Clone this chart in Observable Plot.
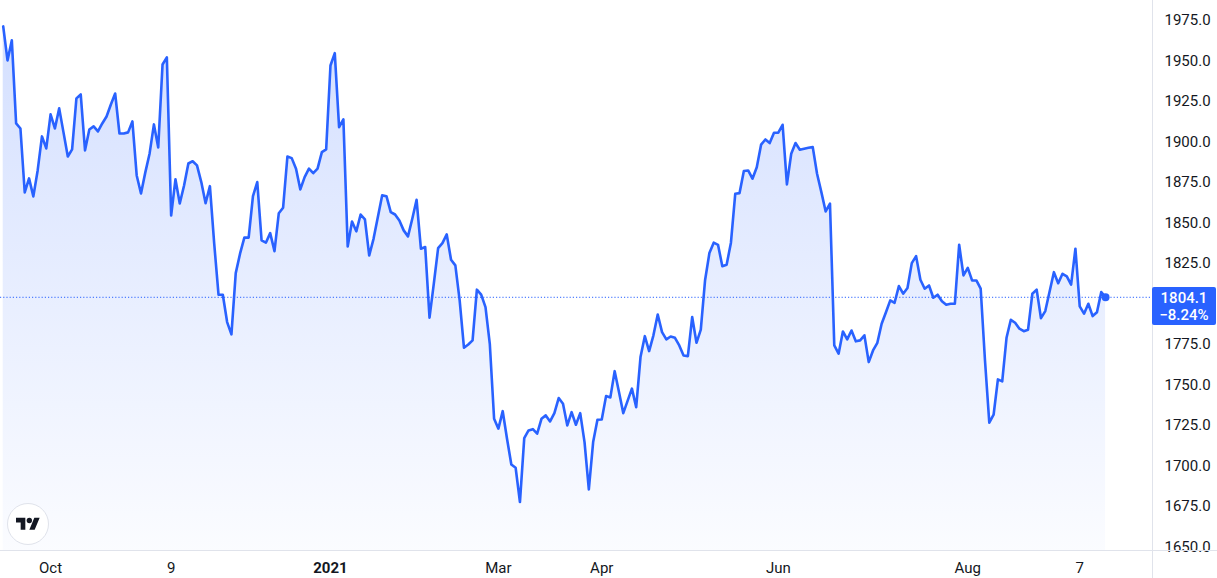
<!DOCTYPE html>
<html>
<head>
<meta charset="utf-8">
<script src="https://cdn.jsdelivr.net/npm/d3@7"></script>
<script src="https://cdn.jsdelivr.net/npm/@observablehq/plot@0.6"></script>
<style>
  html, body { margin: 0; padding: 0; background: #fff; }
  #chart { position: relative; width: 1217px; height: 578px; overflow: hidden; font-family: Roboto, "Liberation Sans", sans-serif; }
  #chart > svg { position: absolute; left: 0; top: 0; }
  .vline { position: absolute; left: 1152px; top: 0; width: 1px; height: 578px; background: #e0e3eb; }
  .hline { position: absolute; left: 0; top: 550px; width: 1217px; height: 1px; background: #e0e3eb; }
  .pricebox { position: absolute; left: 1152px; width: 64px; height: 38px; background: #2962ff; border-radius: 2px;
              color: #fff; font-size: 15px; font-weight: 500; line-height: 17px; text-align: center; padding-top: 3px; box-sizing: border-box; }
  .logo { position: absolute; left: 7px; top: 503px; width: 42px; height: 42px; border-radius: 50%; border: 1px solid #e0e3eb;
          background: #fff; box-sizing: border-box; display: flex; align-items: center; justify-content: center; }
  .logo svg { display: block; }
</style>
</head>
<body>
<div id="chart"></div>
<script>
// trading-session index (0 = first bar shown) and closing price
const day = [
  0,1,2,3,4,5,6,7,8,9,10,11,12,13,14,15,16,17,18,19,20,21,22,23,24,25,26,27,28,29,
  30,31,32,33,34,35,36,37,38,39,40,41,42,43,44,45,46,47,48,49,50,51,52,53,54,55,56,57,58,59,
  60,61,62,63,64,65,66,67,68,69,70,71,72,73,74,75,76,77,78,79,80,81,82,83,84,85,86,88,89,
  90,91,92,93,94,95,96,97,98,99,100,101,102,103,104,105,106,107,108,109,110,111,112,113,114,115,116,117,118,119,
  120,121,122,123,124,125,126,127,128,129,130,131,132,133,134,135,136,137,138,139,140,141,142,143,144,146,147,148,149,
  150,151,152,153,154,155,156,157,158,159,160,161,162,163,164,165,166,167,168,169,170,171,172,173,174,175,176,177,178,179,
  180,181,182,183,184,185,187,188,189,190,191,192,193,194,195,196,197,198,199,200,201,202,203,204,205,206,207,208,209,
  210,211,212,213,214,215,216,217,218,219,220,221,222,223,224,225,226,227,228,229,230,231,232,233,234,235,236,237,238,239,
  240,241,242,244,245,246,247,248,249,250,251,252,253,254,255,256
];
const price = [
  1971.3,1950.3,1962.7,1911.4,1908.3,1868.8,1877.5,1866.4,1882.4,1903.4,1896.0,1917.0,1908.3,1920.7,1905.9,1891.0,1895.4,1926.9,1929.3,1894.8,1907.7,1909.6,1906.5,1911.4,1915.7,1923.1,1929.9,1905.2,1905.2,1905.9,
  1912.7,1879.3,1868.2,1881.2,1892.9,1910.8,1896.6,1947.8,1952.2,1854.6,1876.9,1862.0,1873.1,1886.7,1888.1,1885.5,1875.2,1862.2,1872.7,1837.2,1805.7,1805.7,1788.8,1781.2,1819.0,1831.0,1840.9,1840.9,1866.5,1875.2,
  1839.2,1837.8,1843.7,1832.6,1856.0,1859.4,1891.0,1890.0,1883.5,1870.7,1878.3,1883.5,1880.7,1883.5,1893.7,1895.4,1947.2,1954.8,1909.1,1913.9,1835.5,1850.9,1844.8,1855.2,1852.2,1829.9,1840.2,1867.0,1866.5,
  1856.7,1855.2,1851.5,1845.4,1841.7,1852.6,1864.3,1834.1,1835.1,1791.5,1812.5,1834.4,1837.5,1842.9,1827.3,1823.8,1802.2,1773.0,1775.0,1777.5,1808.8,1805.7,1798.0,1775.4,1729.1,1723.0,1733.8,1716.8,1700.9,1698.9,
  1677.7,1717.2,1721.9,1722.7,1719.9,1729.1,1731.2,1727.5,1732.6,1741.9,1738.4,1725.0,1733.2,1725.4,1732.6,1714.7,1685.5,1714.7,1728.5,1728.7,1743.1,1742.3,1758.5,1745.6,1732.6,1747.7,1736.3,1767.2,1780.1,
  1770.9,1780.6,1793.5,1782.6,1778.1,1779.9,1779.1,1774.4,1768.2,1767.8,1791.9,1776.0,1784.1,1814.8,1831.4,1837.8,1836.5,1823.3,1824.2,1837.8,1868.0,1868.4,1882.0,1882.4,1877.3,1884.4,1898.3,1901.5,1899.3,1905.7,
  1905.7,1910.6,1873.8,1892.7,1899.3,1895.2,1896.4,1896.8,1880.4,1869.0,1857.1,1861.9,1774.4,1769.3,1783.0,1778.1,1783.6,1776.9,1777.5,1780.6,1764.1,1771.3,1776.0,1787.8,1794.9,1802.2,1800.7,1811.0,1806.3,
  1809.8,1825.2,1829.5,1814.9,1809.4,1811.4,1803.8,1805.7,1801.7,1799.5,1800.1,1800.1,1836.5,1817.6,1822.3,1814.5,1814.5,1809.4,1765.1,1726.7,1731.6,1753.4,1752.2,1779.1,1790.2,1788.4,1784.7,1783.2,1784.1,1806.3,
  1808.8,1791.2,1795.6,1819.6,1812.8,1818.6,1817.0,1811.9,1834.1,1798.5,1794.0,1800.1,1792.5,1794.9,1807.3,1804.1
];
// x-axis tick sessions and their labels
const tickDay   = [11, 39, 76, 115, 139, 180, 224, 250];
const tickLabel = ["Oct", "9", "2021", "Mar", "Apr", "Jun", "Aug", "7"];
const boldLabels = ["2021"];
// y-axis ticks shown (1800.0 is hidden behind the last-price label)
const yTicks = [1650, 1675, 1700, 1725, 1750, 1775, 1825, 1850, 1875, 1900, 1925, 1950, 1975];
const changePct = -8.24;

const xDomain = [-0.63, 266.9];
const yDomain = [1647.8, 1987.3];

const data = day.map((d, i) => ({day: d, price: price[i]}));
const last = data[data.length - 1];
const labelOf = d => tickLabel[tickDay.indexOf(d)];
const normalTicks = tickDay.filter(d => !boldLabels.includes(labelOf(d)));
const boldTicks = tickDay.filter(d => boldLabels.includes(labelOf(d)));

const defs = () => {
  const ns = "http://www.w3.org/2000/svg";
  const g = document.createElementNS(ns, "defs");
  g.innerHTML = '<linearGradient id="areaGrad" x1="0" y1="0" x2="0" y2="1">' +
    '<stop offset="0" stop-color="#2962ff" stop-opacity="0.2"/>' +
    '<stop offset="1" stop-color="#2962ff" stop-opacity="0.02"/></linearGradient>';
  return g;
};

const chart = Plot.plot({
  width: 1217,
  height: 578,
  marginLeft: 0,
  marginRight: 65,
  marginTop: 0,
  marginBottom: 28,
  style: {fontFamily: "Roboto, 'Liberation Sans', sans-serif", fontSize: "15px", color: "#131722", background: "transparent", overflow: "visible"},
  x: {type: "linear", domain: xDomain, axis: null},
  y: {domain: yDomain, axis: null},
  marks: [
    defs,
    Plot.areaY(data, {x: "day", y1: yDomain[0], y2: "price", fill: "url(#areaGrad)"}),
    Plot.ruleY([last.price], {stroke: "#2962ff", strokeWidth: 1, strokeDasharray: "1.2,2"}),
    Plot.lineY(data, {x: "day", y: "price", stroke: "#2962ff", strokeWidth: 2.6, strokeLinejoin: "round", strokeLinecap: "round"}),
    Plot.dot([last], {x: "day", y: "price", r: 4, fill: "#2962ff"}),
    Plot.axisY(yTicks, {anchor: "right", tickSize: 0, tickPadding: 12, tickFormat: d => d.toFixed(1), label: null, fill: "#131722"}),
    Plot.axisX(normalTicks, {anchor: "bottom", tickSize: 0, tickPadding: 12, tickFormat: labelOf, label: null, fill: "#131722"}),
    Plot.axisX(boldTicks, {anchor: "bottom", tickSize: 0, tickPadding: 12, tickFormat: labelOf, label: null, fill: "#131722", fontWeight: "bold"})
  ]
});

const root = document.getElementById("chart");
root.appendChild(chart);

const v = document.createElement("div"); v.className = "vline"; root.appendChild(v);
const h = document.createElement("div"); h.className = "hline"; root.appendChild(h);

const yPx = chart.scale("y").apply(last.price);
const box = document.createElement("div");
box.className = "pricebox";
box.style.top = (yPx - 10) + "px";
box.innerHTML = last.price.toFixed(1) + "<br>" + (changePct < 0 ? "\u2212" : "+") + Math.abs(changePct).toFixed(2) + "%";
root.appendChild(box);

const logo = document.createElement("div");
logo.className = "logo";
logo.innerHTML = '<svg width="24" height="19" viewBox="0 0 36 28"><path fill="#131722" d="M14 22H7V11H0V4h14v18zM28 22h-8l7.5-18h8L28 22z"/><circle fill="#131722" cx="20" cy="8" r="4"/></svg>';
root.appendChild(logo);
</script>
</body>
</html>
